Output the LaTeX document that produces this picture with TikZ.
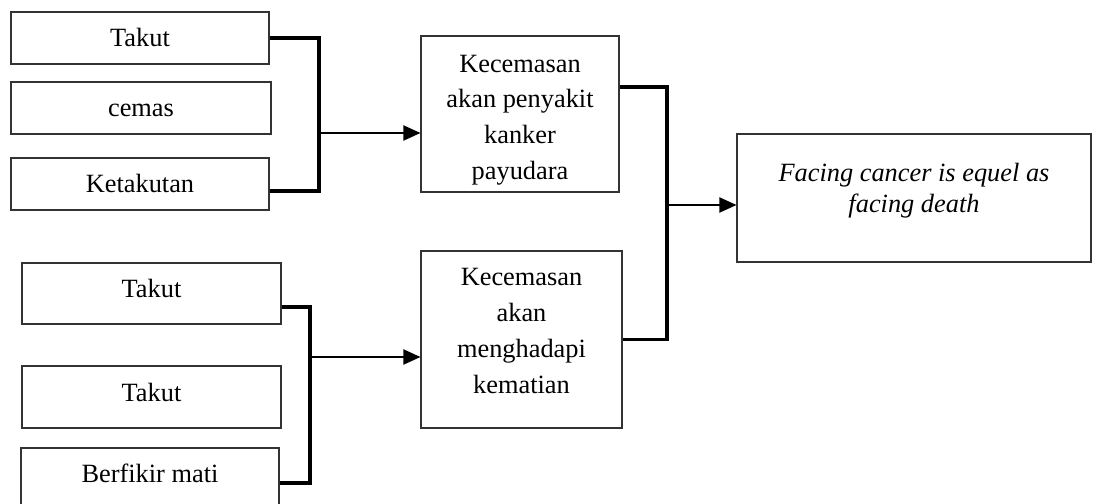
\documentclass[tikz,border=0pt]{standalone}
\usepackage{fontspec}
\setmainfont{Liberation Serif}
\usetikzlibrary{positioning,calc,arrows.meta}

\begin{document}
\begin{tikzpicture}[
box/.style={
% The shape:
rectangle,
% The border:
draw=black!80, line width=0.6pt,
% The text:
inner sep=0pt, align=center,
% Font
font=\fontsize{15}{20.3}\selectfont
},
 item/.style={
% The shape and size:
box, minimum width=5.16cm, minimum height=1.04cm,
% baseline inside the box
text height=9.9pt, text depth=0pt},
 boxtext/.style={font=\fontsize{15}{20.3}\selectfont, align=center},
 bracket/.style={line width=1.9pt},
 arrow/.style={line width=1.1pt, -{Triangle[length=3.4mm,width=3mm]}}
]
\useasboundingbox (0,0) rectangle (21.94,-10.08);
\clip (0,0) rectangle (21.94,-10.08);

% first group
\node (takut) [item] at (2.80,-0.76) {Takut};
\node (cemas) [item, minimum width=5.20cm] at (2.82,-2.16) {cemas};
\node (ketakutan) [item] at (2.80,-3.68) {Ketakutan};
\node (kanker) [box, minimum width=3.96cm, minimum height=3.12cm] at (10.40,-2.28) {};
\node (kankertext) [boxtext] at (10.40,-2.40) {Kecemasan\\akan penyakit\\kanker\\payudara};

% second group
\node (takut2) [item, minimum width=5.18cm, minimum height=1.22cm, text depth=4.8pt] at (3.03,-5.87) {Takut};
\node (takut3) [item, minimum width=5.18cm, minimum height=1.24cm, text depth=4.8pt] at (3.03,-7.94) {Takut};
\node (mati) [item, minimum height=1.20cm, text depth=4.8pt] at (3.00,-9.56) {Berfikir mati};
\node (kematian) [box, minimum width=4.02cm, minimum height=3.54cm] at (10.43,-6.79) {};
\node (kematiantext) [boxtext] at (10.43,-6.62) {Kecemasan\\akan\\menghadapi\\kematian};

% result
\node (facing) [box, minimum width=7.08cm, minimum height=2.56cm] at (18.28,-3.96) {};
\node (facingtext) [boxtext, font=\itshape\fontsize{15}{17.6}\selectfont] at (18.28,-3.81) {Facing cancer is equel as\\facing death};

\coordinate (j1) at (6.38,-2.66);
\coordinate (j2) at (6.20,-7.14);
\coordinate (j3) at (13.34,-4.10);

\draw [bracket] (takut.east) -| (j1) |- ([yshift=-0.14cm]ketakutan.east);
\path (j1) edge[arrow] (j1 -| kanker.west);
\draw [bracket] ([yshift=-0.27cm]takut2.east) -| (j2) |- ([yshift=-0.10cm]mati.east);
\path (j2) edge[arrow] (j2 -| kematian.west);
\draw [bracket] ([yshift=0.54cm]kanker.east) -| (j3) |- (kematian.east);
\path (j3) edge[arrow] (j3 -| facing.west);
\end{tikzpicture}
\end{document}
